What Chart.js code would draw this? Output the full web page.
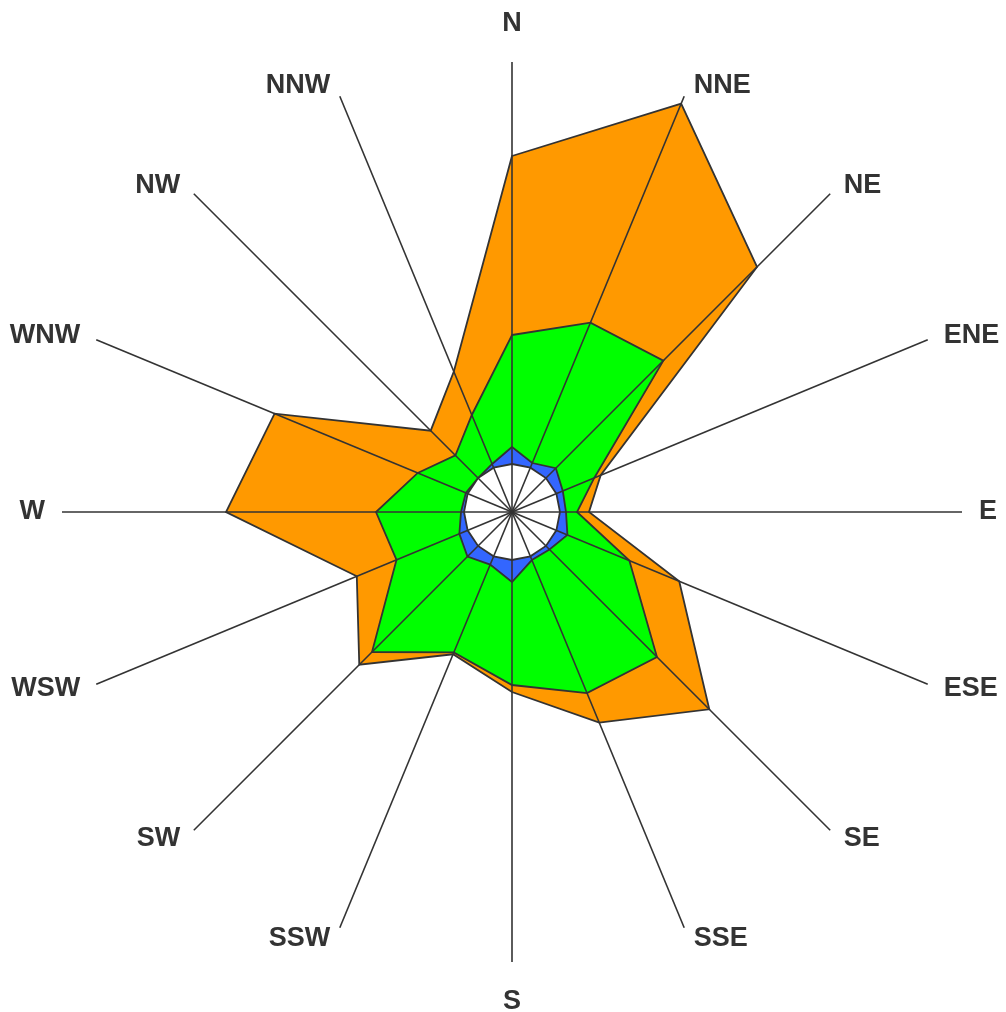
<!DOCTYPE html>
<html>
<head>
<meta charset="utf-8">
<title>Wind rose</title>
<script src="https://cdn.jsdelivr.net/npm/chart.js@4/dist/chart.umd.min.js"></script>
<style>
  html, body { margin: 0; padding: 0; background: #fff; }
  #wrap { width: 1006px; height: 1012px; position: relative; }
</style>
</head>
<body>
<div id="wrap"><canvas id="rosa"></canvas></div>
<script>
// direções da rosa dos ventos
const direcoes = ['N', 'NNE', 'NE', 'ENE', 'E', 'ESE', 'SE', 'SSE', 'S', 'SSW', 'SW', 'WSW', 'W', 'WNW', 'NW', 'NNW'];

// valores acumulados por faixa
const calmaria = [0.96, 0.96, 0.96, 0.96, 0.96, 0.96, 0.96, 0.96, 0.96, 0.96, 0.96, 0.96, 0.96, 0.96, 0.96, 0.96];
const faixaAzul = [1.30, 1.06, 1.24, 1.10, 1.08, 1.20, 1.06, 1.04, 1.40, 1.14, 1.26, 1.14, 1.02, 1.00, 0.96, 1.04];
const faixaVerde = [3.54, 4.10, 4.28, 1.78, 1.30, 2.54, 4.10, 3.92, 3.46, 3.04, 3.96, 2.50, 2.72, 2.04, 1.60, 2.10];
const faixaLaranja = [7.12, 8.84, 6.93, 1.92, 1.54, 3.62, 5.58, 4.56, 3.60, 3.08, 4.32, 3.36, 5.72, 5.14, 2.30, 3.04];
const escalaMax = 9;

const corLinha = '#333333';

// rótulos das direções desenhados fora dos raios
const rotulosDirecao = {
    id: 'rotulosDirecao',
    afterDraw(chart) {
        const escala = chart.scales.r;
        const ctx = chart.ctx;
        ctx.save();
        ctx.fillStyle = corLinha;
        ctx.font = 'bold 27px "Liberation Sans", Arial, sans-serif';
        direcoes.forEach((d, i) => {
            let p = escala.getPointPosition(i, escala.drawingArea + 12);
            let x = p.x, y = p.y;
            const dx = x - escala.xCenter;
            if (Math.abs(dx) < 1) {
                ctx.textAlign = 'center';
                y += (y < escala.yCenter) ? -26 : 28;
            } else if (dx > 0) {
                ctx.textAlign = 'left';
                x += 5;
            } else {
                ctx.textAlign = 'right';
                x -= 5;
            }
            ctx.textBaseline = 'middle';
            ctx.fillText(d, x, y);
        });
        ctx.restore();
    }
};

function serie(nome, dados, cor) {
    return {
        label: nome,
        data: dados,
        backgroundColor: cor,
        borderColor: corLinha,
        borderWidth: 1.8,
        pointRadius: 0,
        tension: 0,
        fill: 'origin'
    };
}

new Chart(document.getElementById('rosa'), {
    type: 'radar',
    data: {
        labels: direcoes,
        datasets: [
            serie('calmaria', calmaria, '#ffffff'),
            serie('azul', faixaAzul, '#3366ff'),
            serie('verde', faixaVerde, '#00ff00'),
            serie('laranja', faixaLaranja, '#ff9900')
        ]
    },
    options: {
        responsive: true,
        maintainAspectRatio: false,
        animation: false,
        layout: { padding: { left: 62, right: 44, top: 62, bottom: 50 } },
        plugins: { legend: { display: false }, tooltip: { enabled: false } },
        scales: {
            r: {
                min: 0,
                max: escalaMax,
                // raios por cima das áreas preenchidas
                grid: { display: false, z: 1 },
                angleLines: { display: true, color: corLinha, lineWidth: 1.6 },
                pointLabels: { display: false },
                ticks: { display: false }
            }
        }
    },
    plugins: [rotulosDirecao]
});
</script>
</body>
</html>
